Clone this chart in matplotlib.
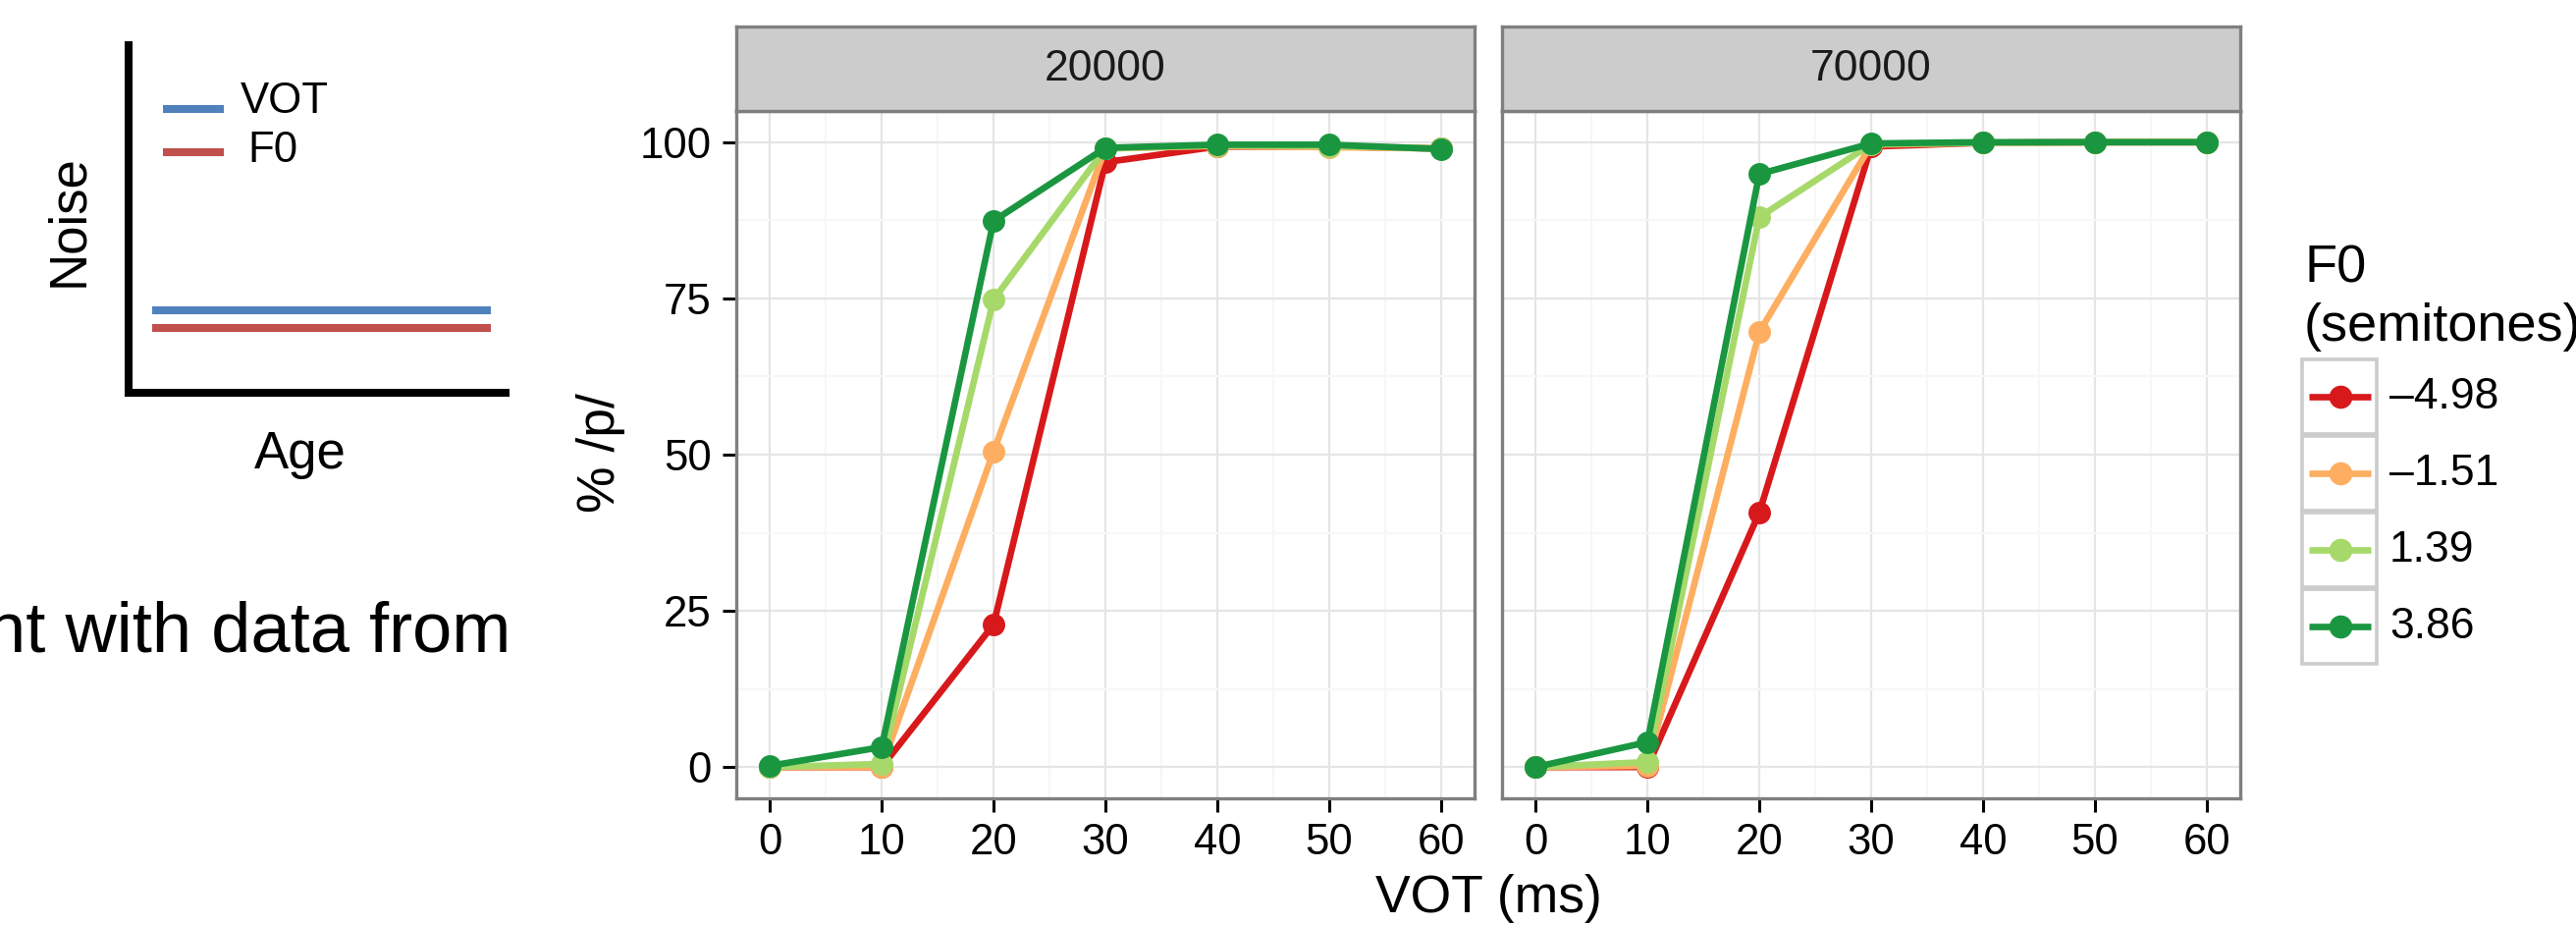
import matplotlib.pyplot as plt
from matplotlib.patches import Rectangle

plt.rcParams['font.family'] = ['Liberation Sans', 'DejaVu Sans']

# data
vot_ms = [0, 10, 20, 30, 40, 50, 60]
noise_levels = ['20000', '70000']
f0_labels = ['\u20134.98', '\u20131.51', '1.39', '3.86']
f0_colors = ['#D7191C', '#FDAE61', '#A6D96A', '#1A9641']

pct_p_20000 = [
    [0, 0, 22.8, 96.8, 99.3, 99.3, 99.0],
    [0, 0, 50.5, 99.0, 99.4, 99.2, 99.0],
    [0, 0.5, 74.8, 99.0, 99.5, 99.4, 99.0],
    [0.2, 3.2, 87.4, 99.1, 99.6, 99.6, 98.9],
]
pct_p_70000 = [
    [0, 0, 40.7, 99.3, 99.9, 100, 100],
    [0, 0.2, 69.6, 99.6, 99.9, 100, 100],
    [0, 0.8, 88.0, 99.7, 99.9, 100, 100],
    [0, 4.0, 94.9, 99.8, 100, 100, 100],
]

# schematic (Noise vs Age)
schema_age = [0.0625, 0.961]
schema_vot = [0.236, 0.236]
schema_f0 = [0.186, 0.186]

W, H = 2624, 942
def fx(px):
    return px / W
def fy(py):
    return 1 - py / H

fig = plt.figure(figsize=(26.24, 9.42), dpi=100)

# ---- left schematic
ax_s = fig.add_axes([fx(131), fy(400), 384 / W, 354 / H])
ax_s.set_xlim(0, 1)
ax_s.set_ylim(0, 1)
ax_s.plot(schema_age, schema_vot, color='#4F81BD', lw=5.8, solid_capstyle='butt')
ax_s.plot(schema_age, schema_f0, color='#C0504D', lw=5.8, solid_capstyle='butt')
ax_s.plot([0.091, 0.253], [0.816, 0.816], color='#4F81BD', lw=5.8, solid_capstyle='butt')
ax_s.plot([0.091, 0.253], [0.692, 0.692], color='#C0504D', lw=5.8, solid_capstyle='butt')
ax_s.text(0.297, 0.837, 'VOT', fontsize=31.5, va='center', ha='left')
ax_s.text(0.317, 0.695, 'F0', fontsize=31.5, va='center', ha='left')
for s in ['top', 'right']:
    ax_s.spines[s].set_visible(False)
for s in ['left', 'bottom']:
    ax_s.spines[s].set_linewidth(5.8)
    ax_s.spines[s].set_color('black')
ax_s.set_xticks([])
ax_s.set_yticks([])
ax_s.patch.set_visible(False)
fig.text(fx(70), fy(225), 'Noise', rotation=90, ha='center', va='center', fontsize=38)
fig.text(fx(306), fy(477), 'Age', ha='center', va='baseline', fontsize=38)

fig.text(fx(520), fy(664), 'nt with data from', ha='right', va='baseline', fontsize=52)

# ---- facet panels
panel_lefts = [750, 1530]
panel_data = [pct_p_20000, pct_p_70000]

for i in range(2):
    left = panel_lefts[i]
    ax = fig.add_axes([fx(left), fy(813), 752 / W, 700 / H])
    ax.set_xlim(-3, 63)
    ax.set_ylim(-5, 105)
    ax.set_xticks(range(0, 61, 10))
    ax.set_xticks(range(5, 60, 10), minor=True)
    ax.set_yticks([0, 25, 50, 75, 100])
    ax.set_yticks([12.5, 37.5, 62.5, 87.5], minor=True)
    ax.grid(which='major', color='#E5E5E5', lw=1.6)
    ax.grid(which='minor', color='#F7F7F7', lw=1.6)
    ax.set_axisbelow(True)
    for s in ax.spines.values():
        s.set_color('#7F7F7F')
        s.set_linewidth(2.4)
    ax.tick_params(which='major', length=10, width=2.2, color='black',
                   labelsize=31.5, labelcolor='black', pad=8)
    ax.tick_params(which='minor', length=0)
    if i == 1:
        ax.tick_params(axis='y', left=False, labelleft=False)

    for vals, col in zip(panel_data[i], f0_colors):
        ax.plot(vot_ms, vals, color=col, lw=4.8, marker='o', ms=15.5,
                solid_capstyle='butt', clip_on=False)

    sax = fig.add_axes([fx(left), fy(113), 752 / W, 86 / H])
    sax.set_facecolor('#CCCCCC')
    for s in sax.spines.values():
        s.set_color('#7F7F7F')
        s.set_linewidth(2.4)
    sax.set_xticks([])
    sax.set_yticks([])
    sax.text(0.5, 0.5, noise_levels[i], ha='center', va='center',
             fontsize=32, color='#1A1A1A', transform=sax.transAxes)

fig.text(fx(612), fy(461), '% /p/', rotation=90, ha='center', va='center', fontsize=38.5)
fig.text(fx(1516), fy(929), 'VOT (ms)', ha='center', va='baseline', fontsize=38.5)

# ---- legend drawn in pixel space
lg = fig.add_axes([0, 0, 1, 1])
lg.set_xlim(0, W)
lg.set_ylim(H, 0)
lg.axis('off')
lg.text(2347, 288, 'F0', fontsize=39, va='baseline', ha='left')
lg.text(2347, 347, '(semitones)', fontsize=39, va='baseline', ha='left')
row_y = [404, 482, 560, 638]
for k in range(4):
    y = row_y[k]
    lg.add_patch(Rectangle((2345, y - 38), 76, 76, facecolor='white',
                           edgecolor='#CCCCCC', lw=2.6))
    lg.plot([2352, 2415], [y, y], color=f0_colors[k], lw=4.8, solid_capstyle='butt')
    lg.plot([2383.5], [y], 'o', color=f0_colors[k], ms=16)
    lg.text(2434, y, f0_labels[k], fontsize=32, va='center', ha='left')

fig.savefig('out.png', dpi=100)
